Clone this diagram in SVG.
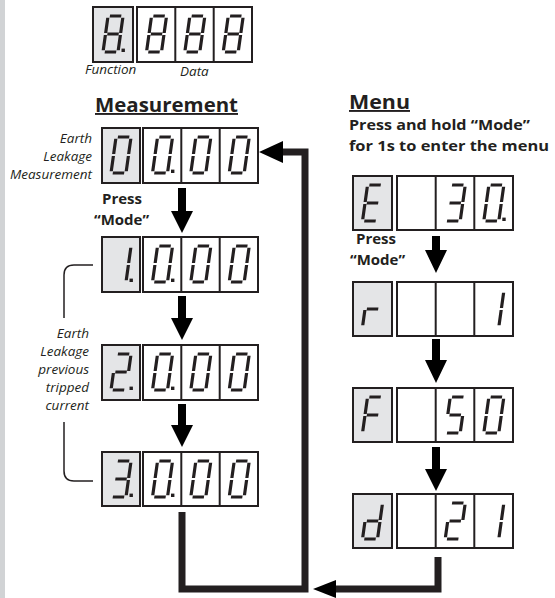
<svg xmlns="http://www.w3.org/2000/svg" xmlns:xlink="http://www.w3.org/1999/xlink" width="555" height="598" viewBox="0 0 555 598">
<style>
.fn{fill:#e4e5e7;stroke:#231f20;stroke-width:2}
.dt{fill:#ffffff;stroke:#231f20;stroke-width:2}
.dv{stroke:#231f20;stroke-width:2}
.seg{fill:none;stroke:#231f20;stroke-width:3.2;stroke-linecap:butt}
.dp{fill:#231f20}
.it{font-family:"Open Sans","Liberation Sans",sans-serif;font-style:italic;font-size:13.5px;fill:#231f20}
.bd{font-family:"Open Sans","Liberation Sans",sans-serif;font-weight:bold;fill:#231f20}
.arw{fill:#000000}
.loop{fill:none;stroke:#231f20;stroke-width:7;stroke-linejoin:miter}
.brk{fill:none;stroke:#231f20;stroke-width:1.5}
</style>
<defs>
<g id="n8" class="seg" transform="skewX(-8)"><path d="M1.8,-36H13.2M15,-34.2V-19M15,-17V-1.8M1.8,0H13.2M0,-17V-1.8M0,-34.2V-19M1.8,-18H13.2"/></g>
<g id="n0" class="seg" transform="skewX(-8)"><path d="M1.8,-36H13.2M15,-34.2V-19M15,-17V-1.8M1.8,0H13.2M0,-17V-1.8M0,-34.2V-19"/></g>
<g id="n1" class="seg" transform="skewX(-8)"><path d="M15,-34.2V-19M15,-17V-1.8"/></g>
<g id="n2" class="seg" transform="skewX(-8)"><path d="M1.8,-36H13.2M15,-34.2V-19M1.8,-18H13.2M0,-17V-1.8M1.8,0H13.2"/></g>
<g id="n3" class="seg" transform="skewX(-8)"><path d="M1.8,-36H13.2M15,-34.2V-19M1.8,-18H13.2M15,-17V-1.8M1.8,0H13.2"/></g>
<g id="n5" class="seg" transform="skewX(-8)"><path d="M1.8,-36H13.2M0,-34.2V-19M1.8,-18H13.2M15,-17V-1.8M1.8,0H13.2"/></g>
<g id="nE" class="seg" transform="skewX(-8)"><path d="M1.8,-36H13.2M0,-34.2V-19M1.8,-18H13.2M0,-17V-1.8M1.8,0H13.2"/></g>
<g id="nr" class="seg" transform="skewX(-8)"><path d="M1.8,-18H13.2M0,-17V-1.8"/></g>
<g id="nF" class="seg" transform="skewX(-8)"><path d="M1.8,-36H13.2M0,-34.2V-19M1.8,-18H13.2M0,-17V-1.8"/></g>
<g id="nd" class="seg" transform="skewX(-8)"><path d="M15,-34.2V-19M15,-17V-1.8M1.8,0H13.2M0,-17V-1.8M1.8,-18H13.2"/></g>
<rect id="pt" class="dp" x="18.5" y="-3.4" width="3.4" height="3.4"/>
</defs>

<rect x="0" y="0" width="5" height="598" fill="#d1d3d5"/>

<!-- Top legend display -->
<g id="legend">
  <rect class="fn" x="93" y="7" width="40" height="55"/>
  <rect class="dt" x="137" y="7" width="115" height="55"/>
  <line class="dv" x1="175.3" y1="7" x2="175.3" y2="62"/>
  <line class="dv" x1="213.7" y1="7" x2="213.7" y2="62"/>
  <use href="#n8" x="103" y="52"/><use href="#pt" x="103" y="52"/>
  <use href="#n8" x="146.5" y="52"/>
  <use href="#n8" x="184.8" y="52"/>
  <use href="#n8" x="223.2" y="52"/>
  <text class="it" x="85" y="74" font-size="13">Function</text>
  <text class="it" x="180" y="76" font-size="13">Data</text>
</g>

<!-- Headings -->
<g id="headings">
  <text class="bd" x="95" y="112" font-size="19" text-decoration="underline" textLength="143" lengthAdjust="spacingAndGlyphs">Measurement</text>
  <text class="bd" x="349" y="109" font-size="19" text-decoration="underline" textLength="61" lengthAdjust="spacingAndGlyphs">Menu</text>
  <text class="bd" x="349" y="130" font-size="15" textLength="181" lengthAdjust="spacingAndGlyphs">Press and hold “Mode”</text>
  <text class="bd" x="349" y="151" font-size="15" textLength="200" lengthAdjust="spacingAndGlyphs">for 1s to enter the menu</text>
</g>

<!-- Measurement rows -->
<g id="m0">
  <rect class="fn" x="102" y="128" width="38" height="55"/>
  <rect class="dt" x="143" y="128" width="115" height="55"/>
  <line class="dv" x1="181.3" y1="128" x2="181.3" y2="183"/>
  <line class="dv" x1="219.7" y1="128" x2="219.7" y2="183"/>
  <use href="#n0" x="111" y="173"/>
  <use href="#n0" x="152.5" y="173"/><use href="#pt" x="152.5" y="173"/>
  <use href="#n0" x="190.8" y="173"/>
  <use href="#n0" x="229.2" y="173"/>
  <text class="it" text-anchor="end" x="92" y="143">Earth</text>
  <text class="it" text-anchor="end" x="92" y="161">Leakage</text>
  <text class="it" text-anchor="end" x="92" y="179">Measurement</text>
</g>
<g id="m1">
  <rect class="fn" x="102" y="237" width="38" height="55"/>
  <rect class="dt" x="143" y="237" width="115" height="55"/>
  <line class="dv" x1="181.3" y1="237" x2="181.3" y2="292"/>
  <line class="dv" x1="219.7" y1="237" x2="219.7" y2="292"/>
  <use href="#n1" x="111" y="282"/><use href="#pt" x="111" y="282"/>
  <use href="#n0" x="152.5" y="282"/><use href="#pt" x="152.5" y="282"/>
  <use href="#n0" x="190.8" y="282"/>
  <use href="#n0" x="229.2" y="282"/>
</g>
<g id="m2">
  <rect class="fn" x="102" y="345" width="38" height="55"/>
  <rect class="dt" x="143" y="345" width="115" height="55"/>
  <line class="dv" x1="181.3" y1="345" x2="181.3" y2="400"/>
  <line class="dv" x1="219.7" y1="345" x2="219.7" y2="400"/>
  <use href="#n2" x="111" y="390"/><use href="#pt" x="111" y="390"/>
  <use href="#n0" x="152.5" y="390"/><use href="#pt" x="152.5" y="390"/>
  <use href="#n0" x="190.8" y="390"/>
  <use href="#n0" x="229.2" y="390"/>
</g>
<g id="m3">
  <rect class="fn" x="102" y="452" width="38" height="54"/>
  <rect class="dt" x="143" y="452" width="115" height="54"/>
  <line class="dv" x1="181.3" y1="452" x2="181.3" y2="506"/>
  <line class="dv" x1="219.7" y1="452" x2="219.7" y2="506"/>
  <use href="#n3" x="111" y="497"/><use href="#pt" x="111" y="497"/>
  <use href="#n0" x="152.5" y="497"/><use href="#pt" x="152.5" y="497"/>
  <use href="#n0" x="190.8" y="497"/>
  <use href="#n0" x="229.2" y="497"/>
</g>
<g id="history-label">
  <path class="brk" d="M93,265H74Q64,265 64,275V318M64,422V471Q64,481 74,481H93"/>
  <text class="it" text-anchor="end" x="89" y="338">Earth</text>
  <text class="it" text-anchor="end" x="89" y="356">Leakage</text>
  <text class="it" text-anchor="end" x="89" y="374">previous</text>
  <text class="it" text-anchor="end" x="89" y="392">tripped</text>
  <text class="it" text-anchor="end" x="89" y="410">current</text>
</g>
<g id="press-m">
  <text class="bd" x="102" y="204" font-size="15">Press</text>
  <text class="bd" x="94" y="225" font-size="15">“Mode”</text>
</g>

<!-- Menu rows -->
<g id="e0">
  <rect class="fn" x="353" y="176" width="39" height="54"/>
  <rect class="dt" x="397" y="176" width="116" height="54"/>
  <line class="dv" x1="435.7" y1="176" x2="435.7" y2="230"/>
  <line class="dv" x1="474.3" y1="176" x2="474.3" y2="230"/>
  <use href="#nE" x="362.5" y="221"/>
  <use href="#n3" x="445.2" y="221"/>
  <use href="#n0" x="483.8" y="221"/><use href="#pt" x="483.8" y="221"/>
</g>
<g id="e1">
  <rect class="fn" x="353" y="282" width="39" height="54"/>
  <rect class="dt" x="397" y="282" width="116" height="54"/>
  <line class="dv" x1="435.7" y1="282" x2="435.7" y2="336"/>
  <line class="dv" x1="474.3" y1="282" x2="474.3" y2="336"/>
  <use href="#nr" x="362.5" y="327"/>
  <use href="#n1" x="483.8" y="327"/>
</g>
<g id="e2">
  <rect class="fn" x="353" y="388" width="39" height="54"/>
  <rect class="dt" x="397" y="388" width="116" height="54"/>
  <line class="dv" x1="435.7" y1="388" x2="435.7" y2="442"/>
  <line class="dv" x1="474.3" y1="388" x2="474.3" y2="442"/>
  <use href="#nF" x="362.5" y="433"/>
  <use href="#n5" x="445.2" y="433"/>
  <use href="#n0" x="483.8" y="433"/>
</g>
<g id="e3">
  <rect class="fn" x="353" y="494" width="39" height="54"/>
  <rect class="dt" x="397" y="494" width="116" height="54"/>
  <line class="dv" x1="435.7" y1="494" x2="435.7" y2="548"/>
  <line class="dv" x1="474.3" y1="494" x2="474.3" y2="548"/>
  <use href="#nd" x="362.5" y="539"/>
  <use href="#n2" x="445.2" y="539"/>
  <use href="#n1" x="483.8" y="539"/>
</g>
<g id="press-e">
  <text class="bd" x="356" y="244" font-size="15">Press</text>
  <text class="bd" x="350" y="265" font-size="15">“Mode”</text>
</g>

<!-- Connectors -->
<g id="connectors">
  <path class="arw" d="M178,188H186V211H193L182,233L171,211H178Z"/>
  <path class="arw" d="M178,296H186V318H193L182,340L171,318H178Z"/>
  <path class="arw" d="M178,404H186V425H193L182,447L171,425H178Z"/>
  <path class="arw" d="M432,236H440V250H447L436,273L425,250H432Z"/>
  <path class="arw" d="M432,339H440V360H447L436,383L425,360H432Z"/>
  <path class="arw" d="M432,447H440V469H447L436,491L425,469H432Z"/>
  <path class="loop" d="M182,512V589H305V152H281"/>
  <path class="arw" d="M259,152L283,141V163Z"/>
  <path class="loop" d="M438,557V589H333"/>
  <path class="arw" d="M313,589L336,580V598Z"/>
</g>
</svg>
